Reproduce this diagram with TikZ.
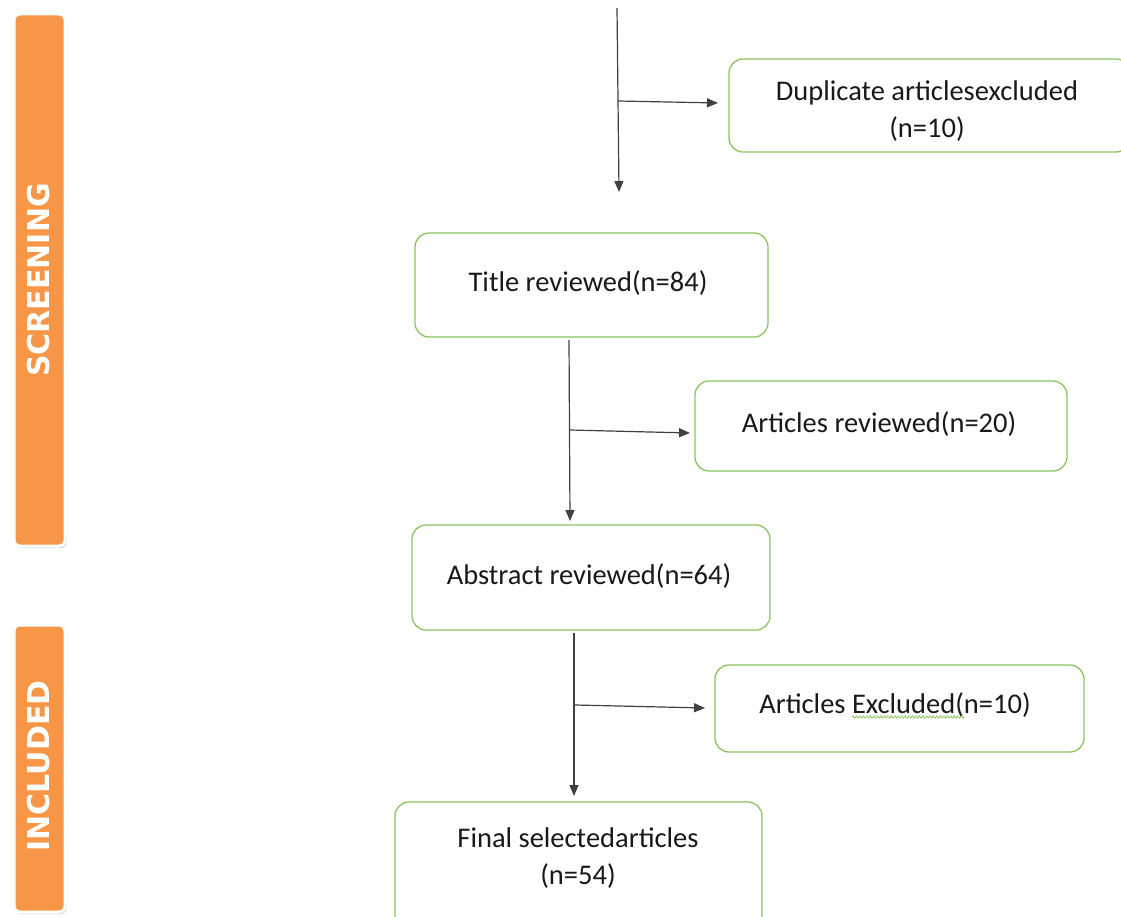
\documentclass[tikz,border=0pt]{standalone}
\usepackage{fontspec}
\setmainfont{Carlito}
\newfontfamily\barfont{DejaVu Sans}
\usetikzlibrary{arrows.meta,decorations.pathmorphing,shadows}
\definecolor{boxgreen}{RGB}{140,196,96}
\definecolor{barorange}{RGB}{247,150,70}
\begin{document}
\begin{tikzpicture}[x=1pt,y=-1pt,
  flowbox/.style={draw=boxgreen,line width=1.3pt,rounded corners=14pt,fill=white},
  boxtext/.style={font=\fontsize{28.5}{37}\selectfont,align=center,text=black!90},
  stagebar/.style={fill=barorange,draw=white,line width=3pt,rounded corners=6pt,drop shadow={shadow xshift=1.5pt,shadow yshift=-2pt,opacity=0.35}},
  bartext/.style={font=\barfont\bfseries\fontsize{30}{32}\selectfont,text=white,rotate=90},
  flowline/.style={draw=black!75,line width=1.2pt},
  flowarrow/.style={flowline,-{Triangle[length=11pt,width=9pt]}}
]
\useasboundingbox (0,0) rectangle (1121,917);
% stage bars
\path[stagebar] (14,14) rectangle (65,546);
\node[bartext] (screening) at (39,280) {SCREENING};
\path[stagebar] (14,625) rectangle (65,912);
\node[bartext] (included) at (39,766) {INCLUDED};
% boxes
\path[flowbox] (729,59) rectangle (1130,152);
\node[boxtext] (dup) at (927,111) {Duplicate articlesexcluded\\(n=10)};
\path[flowbox] (415,233) rectangle (768,337);
\node[boxtext] (title) at (588,283) {Title reviewed(n=84)};
\path[flowbox] (695,381) rectangle (1067,471);
\node[boxtext] (artrev) at (879,424) {Articles reviewed(n=20)};
\path[flowbox] (412,525) rectangle (770,630);
\node[boxtext] (abstract) at (589,576) {Abstract reviewed(n=64)};
\path[flowbox] (715,665) rectangle (1084,752);
\node[boxtext] (artexc) at (895,705) {Articles Excluded(n=10)};
\path[flowbox] (395,802) rectangle (762,930);
\node[boxtext] (final) at (578,858) {Final selectedarticles\\(n=54)};
% squiggle under Excluded
\draw[boxgreen,line width=0.7pt,decorate,decoration={zigzag,amplitude=1.2pt,segment length=3.5pt}] (852,717) -- (965,717);
% connectors
\coordinate (top) at (617,8);
\coordinate (topend) at (619,192);
\coordinate (b1) at (618,101);
\draw[flowarrow] (top) -- (topend);
\draw[flowarrow] (b1) -- (718,103);
\coordinate (t1) at (569,340);
\coordinate (t2) at (570,521);
\coordinate (b2) at (570,430);
\draw[flowarrow] (t1) -- (t2);
\draw[flowarrow] (b2) -- (690,433);
\coordinate (a1) at (574,633);
\coordinate (a2) at (574,796);
\coordinate (b3) at (575,705);
\draw[flowarrow] (a1) -- (a2);
\draw[flowarrow] (b3) -- (705,708);
\end{tikzpicture}
\end{document}
